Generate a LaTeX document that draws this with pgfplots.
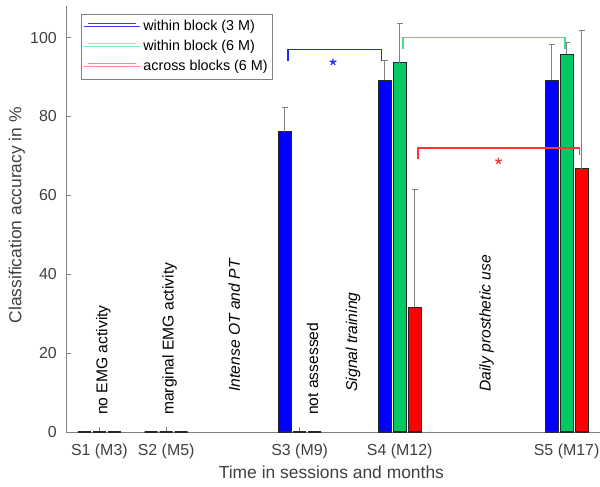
\documentclass[border=0pt]{standalone}
\usepackage{fontspec}
\setmainfont{Liberation Sans}
\usepackage{pgfplots}
\pgfplotsset{compat=1.18}
\usetikzlibrary{plotmarks}
\definecolor{mblue}{RGB}{0,0,255}
\definecolor{mgreen}{RGB}{0,200,100}
\definecolor{mred}{RGB}{255,0,0}
\definecolor{bblue}{RGB}{30,40,255}
\definecolor{bgreen}{RGB}{70,220,140}
\definecolor{bred}{RGB}{255,50,50}
\definecolor{lblue}{RGB}{60,60,235}
\definecolor{lgreen}{RGB}{140,232,180}
\definecolor{lred}{RGB}{255,140,140}
\definecolor{axgray}{RGB}{128,128,128}
\definecolor{txtgray}{RGB}{64,64,64}
\pgfplotsset{
  errstyle/.style={sharp plot, draw=none, no marks, forget plot, error bars/.cd, y dir=plus, y explicit,
    error bar style={draw=axgray, line width=0.8bp},
    error mark options={rotate=90, mark size=3bp, draw=axgray, line width=0.8bp}},
  barstyle/.style={ybar, draw=black!85, line width=1.1bp, forget plot},
}
\begin{document}
\begin{tikzpicture}
\begin{axis}[
  at={(0,0)}, anchor=south west,
  scale only axis, width=534bp, height=426bp,
  xmin=2, xmax=18, ymin=0, ymax=108,
  axis x line*=bottom, axis y line*=left,
  axis line style={axgray, line width=0.8bp, -},
  tick style={axgray, line width=0.8bp},
  tick align=inside, major tick length=5bp,
  xtick={3,5,9,12,17},
  xticklabels={S1 (M3),S2 (M5),S3 (M9),S4 (M12),S5 (M17)},
  ytick={0,20,40,60,80,100},
  ticklabel style={font=\fontsize{16}{19}\selectfont, text=txtgray},
  xticklabel style={anchor=base, yshift=-23bp, inner sep=0pt},
  yticklabel style={anchor=east, xshift=-9bp, inner sep=0pt},
  /pgf/number format/assume math mode=true,
  xlabel={Time in sessions and months},
  ylabel={Classification accuracy in \%},
  label style={font=\fontsize{17.5}{21}\selectfont, text=txtgray},
  xlabel style={at={(axis description cs:0.497,-0.108)}, anchor=base},
  ylabel style={at={(axis description cs:-0.070,0.509)}, anchor=south},
  bar width=0.39,
  clip=false,
  legend style={at={(axis description cs:0.028,0.981)}, anchor=north west,
    draw=axgray, line width=0.8bp, fill=white,
    font=\fontsize{14.4}{17}\selectfont, text=black,
    inner xsep=2.5bp, inner ysep=2.5bp, row sep=0pt,
    nodes={inner xsep=2.5bp, inner ysep=2.75bp, text height=11bp, text depth=3.5bp}},
  legend cell align=left,
  legend image code/.code={\path (0bp,0bp) -- (56bp,0bp); \draw[#1] (4bp,3.5bp) -- (52bp,3.5bp);},
]
% legend
\addlegendimage{lblue, line width=1bp}
\addlegendimage{lgreen, line width=1bp}
\addlegendimage{lred, line width=1bp}
\legend{within block (3 M), within block (6 M), across blocks (6 M)}

% blue series (within block 3 M)
\addplot[barstyle, bar shift=-0.45, fill=mblue] table[x=x, y=y] {
x y
3 0
5 0
9 76.1
12 89.2
17 89.2
};
% green series (within block 6 M)
\addplot[barstyle, bar shift=0, fill=mgreen] table[x=x, y=y] {
x y
3 0
5 0
9 0
12 93.6
17 95.8
};
% red series (across blocks 6 M)
\addplot[barstyle, bar shift=0.45, fill=mred] table[x=x, y=y] {
x y
3 0
5 0
9 0
12 31.6
17 66.8
};
% upward error bars, at the bar centres
\addplot[errstyle] table[x=x, y=y, y error=e] {
x y e
8.55 76.1 6.1
11.55 89.2 4.9
16.55 89.2 9.0
12 93.6 9.9
17 95.8 2.9
12.45 31.6 29.9
17.45 66.8 35.0
};

% significance brackets
\addplot[sharp plot, no marks, bblue, line width=1.5bp, forget plot] coordinates {(8.65,94.1) (8.65,97.0) (11.46,97.0) (11.46,94.1)};
\addplot[sharp plot, no marks, bgreen, line width=1.5bp, forget plot] coordinates {(12.09,97.0) (12.09,100.0) (16.95,100.0) (16.95,97.0)};
\addplot[sharp plot, no marks, bred, line width=1.5bp, forget plot] coordinates {(12.54,69.1) (12.54,72.0) (17.39,72.0) (17.39,70.2)};
\addplot[only marks, mark=star, mark size=3.5bp, bblue, line width=1.3bp, forget plot] coordinates {(10.0,93.8)};
\addplot[only marks, mark=star, mark size=3.5bp, bred, line width=1.3bp, forget plot] coordinates {(14.96,68.7)};

% annotations
\node[rotate=90, anchor=west, inner sep=0pt, font=\fontsize{15.7}{18}\selectfont] at (axis cs:3.12,4.3) {no EMG activity};
\node[rotate=90, anchor=west, inner sep=0pt, font=\fontsize{15.7}{18}\selectfont] at (axis cs:5.1,4.3) {marginal EMG activity};
\node[rotate=90, anchor=west, inner sep=0pt, font=\fontsize{15.7}{18}\selectfont\itshape] at (axis cs:7.04,10.2) {Intense OT and PT};
\node[rotate=90, anchor=west, inner sep=0pt, font=\fontsize{15.7}{18}\selectfont] at (axis cs:9.39,4.3) {not assessed};
\node[rotate=90, anchor=west, inner sep=0pt, font=\fontsize{15.7}{18}\selectfont\itshape] at (axis cs:10.6,10.2) {Signal training};
\node[rotate=90, anchor=west, inner sep=0pt, font=\fontsize{15.7}{18}\selectfont\itshape] at (axis cs:14.6,10.2) {Daily prosthetic use};
\end{axis}
\pgfresetboundingbox
\path[use as bounding box] (-66bp,-55bp) rectangle (534bp,432bp);
\end{tikzpicture}
\end{document}
